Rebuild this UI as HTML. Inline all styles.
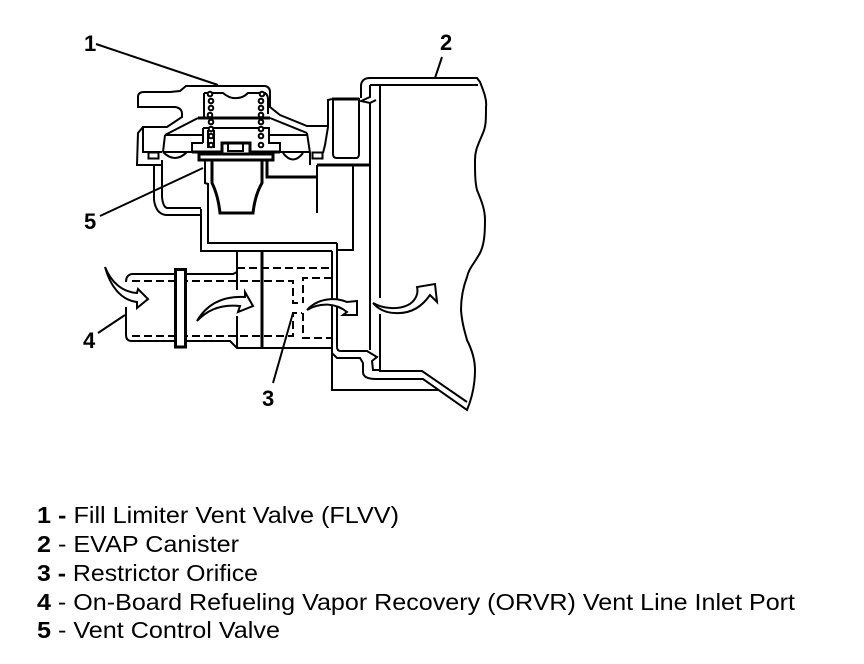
<!DOCTYPE html>
<html><head><meta charset="utf-8"><style>
html,body{margin:0;padding:0;background:#fff;width:864px;height:664px;overflow:hidden}
svg{display:block}
text{font-family:"Liberation Sans",sans-serif;fill:#000}
.n{font-weight:bold;font-size:22px}
.l{font-size:23.500px}
.l tspan{font-weight:bold}
g.s path{fill:none;stroke:#000;stroke-width:2}
.t{stroke-width:3 !important}
.d{stroke-dasharray:8 4}
.a{fill:#fff !important;stroke-width:2}
circle{fill:#fff;stroke:#000;stroke-width:2}
</style></head><body>
<svg width="864" height="664" viewBox="0 0 864 664" xmlns="http://www.w3.org/2000/svg">
<g class="s">
<!-- canister -->
<path d="M361 98V85Q362 78 370 78H477L480 82C484 92 487 100 486 107C486 120 486 126 483 133C478 145 475 150 475 160C475 172 475 182 477 190C482 202 485 210 485 220C485 235 484 245 480 253C474 264 469 268 467 277C462 290 461 300 461 310C462 325 465 332 467 340C472 350 475 360 475 370C475 385 472 398 467 410L423 379H376Q363 379 363 372V363L360 358H337L332 353"/>
<path d="M370 85H478M370 85V97L361 101L370 103L376 100M370 103V350M380 85V298M380 314V371H422L467 402"/>
<path d="M337 243V347Q337 351 341 351H367L377 357L372 361L373 370H380"/>
<path d="M332 251V390H438"/>
<!-- block lines -->
<path class="t" d="M317 165H370"/>
<path d="M353 165V250H337M317 165V213"/>
<path d="M208 183V243H337M201 209V251H332"/>
<!-- pipe -->
<path d="M237 252V272L233 274H132Q126 275 126 282M126 307V335Q126 341 132 341H230L237 348H332M237 252V290M237 316V348"/>
<path class="t" d="M262 252V348"/>
<path class="d" d="M132 281H293V303H302M132 336H293V313H302M237 268H332M332 278H303V303M303 313V338H332"/>
<rect x="175.500" y="269.500" width="10" height="77.500" fill="#fff" stroke="#000" stroke-width="3"/>
<!-- valve outer -->
<path d="M138 97Q138 92 144 92H170L180 91L186 86H265Q270 87 270 92V107L280 115L307 126H328V100L332 99"/>
<path d="M138 97V107H175Q182 108 182 114V117L167 127H143V152H162"/>
<path class="t" d="M332 99H359"/>
<path d="M333 99V154Q333 158 337 158H356Q359 158 359 154V98"/>
<path d="M328 127L325 145L323 153M143 127L138 133L137 165H162M154 165V200Q156 214 166 215H201M162 160V197Q163 207 167 208H201"/>
<!-- diaphragm -->
<path class="t" d="M198 118H270"/>
<path d="M198 118L165 135M270 118L307 133"/>
<path d="M165 135H203M269 135H307"/>
<path d="M165 135L163 152M307 133L310 153V165"/>
<path d="M204 93H223Q230 99 237 98Q243 98 248 93H265Q268 95 268 99V114M204 93V118"/>
<path d="M192 152V143H203M203 128H269V143H280V152H273M203 128V143"/>
<path d="M208 130V148M214 130V148M163 152H192M280 152H310"/>
<path class="t" d="M192 152H222V143H250V152H280"/>
<path d="M228 144V151H243V144"/>
<path class="t" d="M199 154H273V160H199Z"/>
<path d="M163 152Q175 164 187 152M283 153Q293 166 303 153"/>
<rect x="148.500" y="152.500" width="10" height="6" fill="none" stroke="#000" stroke-width="2"/>
<rect x="312.500" y="152.500" width="10" height="6" fill="none" stroke="#000" stroke-width="2"/>
<!-- stem -->
<path d="M205 160V183L208 184"/>
<path class="t" d="M212 160V183Q218 195 220 213H253Q255 195 262 183V160M267 160V177H317"/>
<!-- arrows -->
<path class="a" d="M105 267C110 285 120 300 137 302V308L148 299L138 289L137 293C122 292 111 282 105 267Z"/>
<path class="a" d="M197 321C208 302 225 296 245 297V292L253 306L238 312L240 306C222 304 208 309 197 321Z"/>
<path class="a" d="M307 310C318 298 335 297 347 302L357 301V315H343L347 312C336 303 320 302 307 310Z"/>
<path class="a" d="M373 303C385 310 400 309 408 305C414 302 419 295 417 287L435 284L437 302L430 295C421 308 409 314 395 313C386 313 378 309 373 303Z"/>
<!-- leaders -->
<path d="M96 44L218 85M442 57L435 78M100 216L203 168M98 333L125 315M273 383L293 313"/>
</g>
<!-- springs -->
<g>
<circle cx="210" cy="94" r="2.300"/><circle cx="211" cy="101" r="2.300"/><circle cx="211" cy="108" r="2.300"/><circle cx="210" cy="115" r="2.300"/><circle cx="211" cy="122" r="2.300"/><circle cx="211" cy="129" r="2.300"/><circle cx="211" cy="136" r="2.300"/><circle cx="211" cy="145" r="2.300"/>
<circle cx="262" cy="94" r="2.300"/><circle cx="261" cy="101" r="2.300"/><circle cx="261" cy="108" r="2.300"/><circle cx="261" cy="115" r="2.300"/><circle cx="261" cy="122" r="2.300"/><circle cx="261" cy="129" r="2.300"/><circle cx="261" cy="136" r="2.300"/><circle cx="261" cy="145" r="2.300"/>
</g>
<text class="n" x="84" y="51">1</text>
<text class="n" x="440" y="50">2</text>
<text class="n" x="262" y="406">3</text>
<text class="n" x="83" y="348">4</text>
<text class="n" x="84" y="229">5</text>
<text class="l" x="37" y="523" textLength="362" lengthAdjust="spacingAndGlyphs"><tspan>1 -</tspan> Fill Limiter Vent Valve (FLVV)</text>
<text class="l" x="37" y="552" textLength="202" lengthAdjust="spacingAndGlyphs"><tspan>2</tspan> - EVAP Canister</text>
<text class="l" x="37" y="581" textLength="221" lengthAdjust="spacingAndGlyphs"><tspan>3 -</tspan> Restrictor Orifice</text>
<text class="l" x="37" y="610" textLength="758" lengthAdjust="spacingAndGlyphs"><tspan>4</tspan> - On-Board Refueling Vapor Recovery (ORVR) Vent Line Inlet Port</text>
<text class="l" x="37" y="638" textLength="243" lengthAdjust="spacingAndGlyphs"><tspan>5</tspan> - Vent Control Valve</text>
</svg>
</body></html>
